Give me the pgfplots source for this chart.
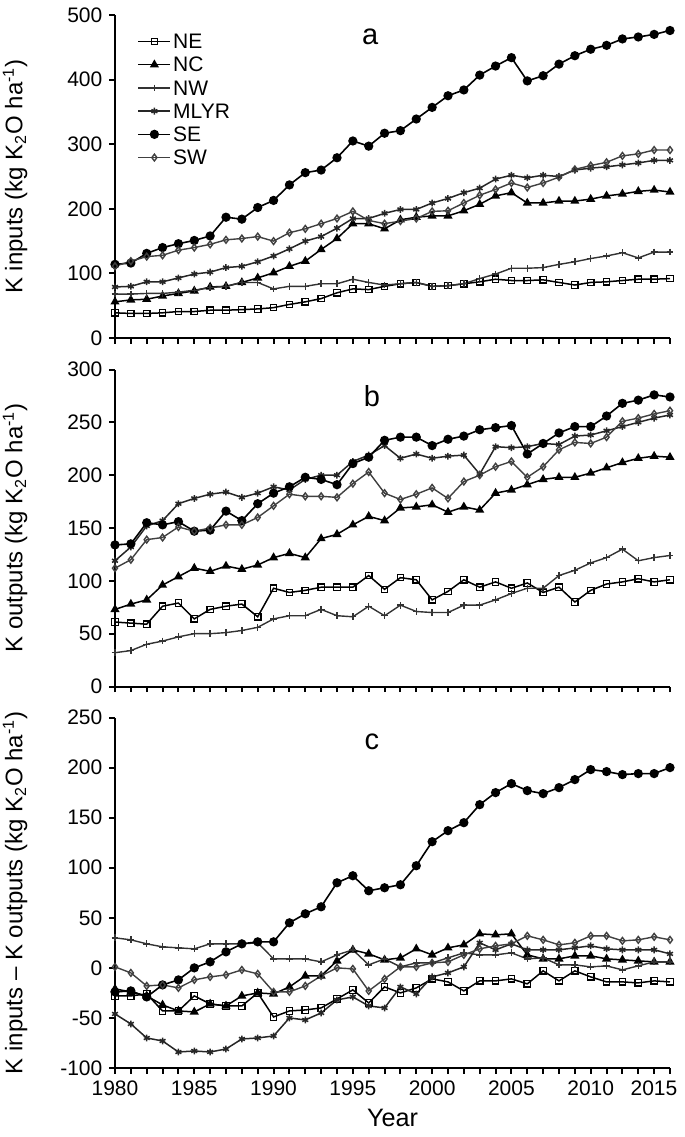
\documentclass[border=0pt]{standalone}
\usepackage{fontspec}
\setmainfont{Liberation Sans}
\usepackage{pgfplots}
\usepackage{pgfplotstable}
\pgfplotsset{compat=1.18}

% K inputs (panel a)
\pgfplotstableread{
year NE NC NW MLYR SE SW
1980 39 56 68 79 114 111
1981 38 59 68 80 116 119
1982 38 60 69 87 131 126
1983 39 65 69 87 140 128
1984 41 69 71 93 146 136
1985 41 73 74 99 151 140
1986 43 79 78 102 158 145
1987 43 80 80 109 187 152
1988 44 86 86 111 184 154
1989 45 93 86 118 202 157
1990 47 101 76 127 213 150
1991 52 111 80 138 237 163
1992 56 119 80 150 256 169
1993 61 137 84 157 260 177
1994 70 154 84 170 279 185
1995 76 177 91 185 305 196
1996 75 177 86 185 297 182
1997 80 169 82 193 317 177
1998 84 183 84 199 321 181
1999 86 187 86 199 339 185
2000 80 189 80 209 357 196
2001 81 189 81 216 375 197
2002 84 197 84 225 384 209
2003 87 207 92 232 407 221
2004 91 220 99 246 421 230
2005 89 225 108 252 434 240
2006 89 209 108 248 398 233
2007 90 209 109 252 406 240
2008 86 212 114 250 424 249
2009 82 212 118 260 437 261
2010 86 215 123 263 447 267
2011 87 220 127 265 453 272
2012 89 223 132 268 463 282
2013 91 227 124 271 466 285
2014 91 229 133 275 470 291
2015 92 226 133 275 476 291
}\kin

% K outputs (panel b)
\pgfplotstableread{
year NE NC NW MLYR SE SW
1980 61 73 32 119 134 112
1981 60 78 34 132 135 120
1982 59 82 40 152 155 139
1983 76 96 43 157 153 141
1984 79 104 47 173 156 151
1985 64 112 50 178 147 147
1986 73 109 50 182 148 150
1987 76 114 51 184 166 153
1988 78 111 53 179 157 153
1989 66 115 56 183 173 160
1990 93 122 64 189 183 171
1991 89 126 67 186 189 182
1992 91 122 67 196 198 180
1993 94 140 73 200 196 180
1994 94 144 67 200 191 179
1995 94 153 66 213 211 192
1996 105 161 76 219 217 203
1997 92 157 67 228 233 183
1998 103 169 77 216 236 177
1999 101 170 71 220 236 182
2000 82 172 70 216 228 188
2001 90 165 70 218 234 178
2002 101 170 77 219 237 194
2003 94 167 77 201 243 200
2004 99 183 82 227 245 208
2005 93 186 88 226 247 213
2006 98 191 93 227 220 198
2007 89 196 93 230 230 208
2008 94 198 105 229 240 224
2009 80 198 110 237 246 231
2010 91 202 117 238 246 230
2011 97 207 122 242 256 236
2012 99 212 130 246 268 251
2013 102 216 119 250 271 254
2014 99 218 122 254 276 258
2015 101 217 124 257 274 261
}\kout

% balance (panel c)
\pgfplotstableread{
year NE NC NW MLYR SE SW
1980 -28 -21 30 -46 -24 1
1981 -28 -24 28 -56 -23 -5
1982 -26 -28 24 -70 -29 -18
1983 -43 -37 21 -73 -17 -17
1984 -43 -43 20 -84 -12 -20
1985 -28 -44 19 -83 0 -12
1986 -36 -36 24 -84 6 -9
1987 -38 -38 24 -81 16 -7
1988 -38 -28 24 -71 24 -2
1989 -25 -25 25 -70 26 -6
1990 -49 -26 9 -68 26 -24
1991 -43 -19 9 -50 45 -24
1992 -42 -8 9 -52 54 -18
1993 -40 -8 6 -45 61 -8
1994 -31 7 13 -32 85 0
1995 -22 18 18 -29 92 -1
1996 -35 14 3 -38 77 -23
1997 -19 8 9 -40 80 -11
1998 -25 10 1 -19 83 1
1999 -20 19 5 -26 102 1
2000 -11 13 5 -9 126 5
2001 -14 20 10 -5 137 6
2002 -23 23 15 1 145 13
2003 -13 34 13 25 163 19
2004 -13 33 13 18 175 22
2005 -11 34 15 24 184 24
2006 -16 13 9 18 177 32
2007 -3 9 10 18 174 28
2008 -13 9 3 18 180 23
2009 -3 12 3 20 188 25
2010 -9 12 1 22 198 32
2011 -14 9 2 19 196 32
2012 -14 8 -2 18 193 27
2013 -15 7 2 18 194 28
2014 -13 6 6 18 194 31
2015 -14 6 6 14 200 28
}\kbal

\pgfplotsset{
  panel/.style={
    scale only axis, width=277.5pt,
    xmin=1980, xmax=2015,
    axis lines=left, axis line style={-, line width=1pt},
    tick align=outside, major tick length=2.8pt, minor tick length=2.8pt,
    every tick/.style={black, line width=1pt},
    xtick={1980,1985,...,2015}, minor xtick={1980,...,2015},
    clip=false,
    tick label style={font=\fontsize{10.5}{12}\selectfont},
    /pgf/number format/assume math mode=true,
    /pgf/number format/1000 sep={},
    ylabel style={font=\fontsize{12}{14}\selectfont,
      at={(axis description cs:-0.18,0.5)}, anchor=center},
  },
  neS/.style={black, line width=0.75pt, mark=square,
    mark options={fill=white, line width=0.6pt}, mark size=1.6pt},
  ncS/.style={black, line width=0.75pt, mark=triangle*, mark size=1.9pt},
  nwS/.style={black!80, line width=0.7pt, mark=+, mark size=1.7pt},
  mlyrS/.style={black!85, line width=0.75pt, mark=asterisk, mark size=1.7pt},
  seS/.style={black, line width=0.8pt, mark=*, mark size=1.9pt},
  swS/.style={black!75, line width=0.7pt, mark=diamond,
    mark options={fill=white}, mark size=1.7pt},
}

\begin{document}
\begin{tikzpicture}
\useasboundingbox (0,0) rectangle (342.5pt,-568.5pt);

% panel a
\begin{axis}[panel, at={(57.5pt,-169pt)}, anchor=south west,
    height=161.5pt, ymin=0, ymax=500, ytick={0,100,...,500},
    xticklabels={},
    ylabel={K inputs (kg K\textsubscript{2}O ha\textsuperscript{-1})},
    legend style={at={(rel axis cs:0.04,0.955)}, anchor=north west,
      draw=none, fill=none, inner sep=0pt, row sep=0pt,
      font=\fontsize{10.5}{12}\selectfont,
      nodes={inner sep=1pt, text height=8.4pt, text depth=1.2pt},
      /tikz/every even column/.append style={column sep=6pt}},
    legend cell align=left,
    legend image code/.code={\draw[mark repeat=2,mark phase=2]
      plot coordinates {(0pt,0pt) (8pt,0pt) (16pt,0pt)};},
  ]
  \addplot[neS] table[x=year,y=NE] {\kin};
  \addplot[ncS] table[x=year,y=NC] {\kin};
  \addplot[nwS] table[x=year,y=NW] {\kin};
  \addplot[mlyrS] table[x=year,y=MLYR] {\kin};
  \addplot[seS] table[x=year,y=SE] {\kin};
  \addplot[swS] table[x=year,y=SW] {\kin};
  \legend{NE,NC,NW,MLYR,SE,SW}
  \node[font=\fontsize{14.5}{16}\selectfont] at (axis cs:1996.1,466) {a};
\end{axis}

% panel b
\begin{axis}[panel, at={(57.5pt,-343.25pt)}, anchor=south west,
    height=158.5pt, ymin=0, ymax=300, ytick={0,50,...,300},
    xticklabels={},
    ylabel={K outputs (kg K\textsubscript{2}O ha\textsuperscript{-1})},
  ]
  \addplot[neS] table[x=year,y=NE] {\kout};
  \addplot[ncS] table[x=year,y=NC] {\kout};
  \addplot[nwS] table[x=year,y=NW] {\kout};
  \addplot[mlyrS] table[x=year,y=MLYR] {\kout};
  \addplot[seS] table[x=year,y=SE] {\kout};
  \addplot[swS] table[x=year,y=SW] {\kout};
  \node[font=\fontsize{14.5}{16}\selectfont] at (axis cs:1996.2,275) {b};
\end{axis}

% panel c
\begin{axis}[panel, at={(57.5pt,-534pt)}, anchor=south west,
    height=175.25pt, ymin=-100, ymax=250, ytick={-100,-50,...,250},
    xticklabels={1980,1985,1990,1995,2000,2005,2010,\kern-8pt 2015\kern8pt},
    xlabel={Year},
    xlabel style={font=\fontsize{12.6}{14}\selectfont},
    ylabel={K inputs -- K outputs (kg K\textsubscript{2}O ha\textsuperscript{-1})},
  ]
  \addplot[neS] table[x=year,y=NE] {\kbal};
  \addplot[ncS] table[x=year,y=NC] {\kbal};
  \addplot[nwS] table[x=year,y=NW] {\kbal};
  \addplot[mlyrS] table[x=year,y=MLYR] {\kbal};
  \addplot[seS] table[x=year,y=SE] {\kbal};
  \addplot[swS] table[x=year,y=SW] {\kbal};
  \node[font=\fontsize{14.5}{16}\selectfont] at (axis cs:1996.2,226) {c};
\end{axis}
\end{tikzpicture}
\end{document}
